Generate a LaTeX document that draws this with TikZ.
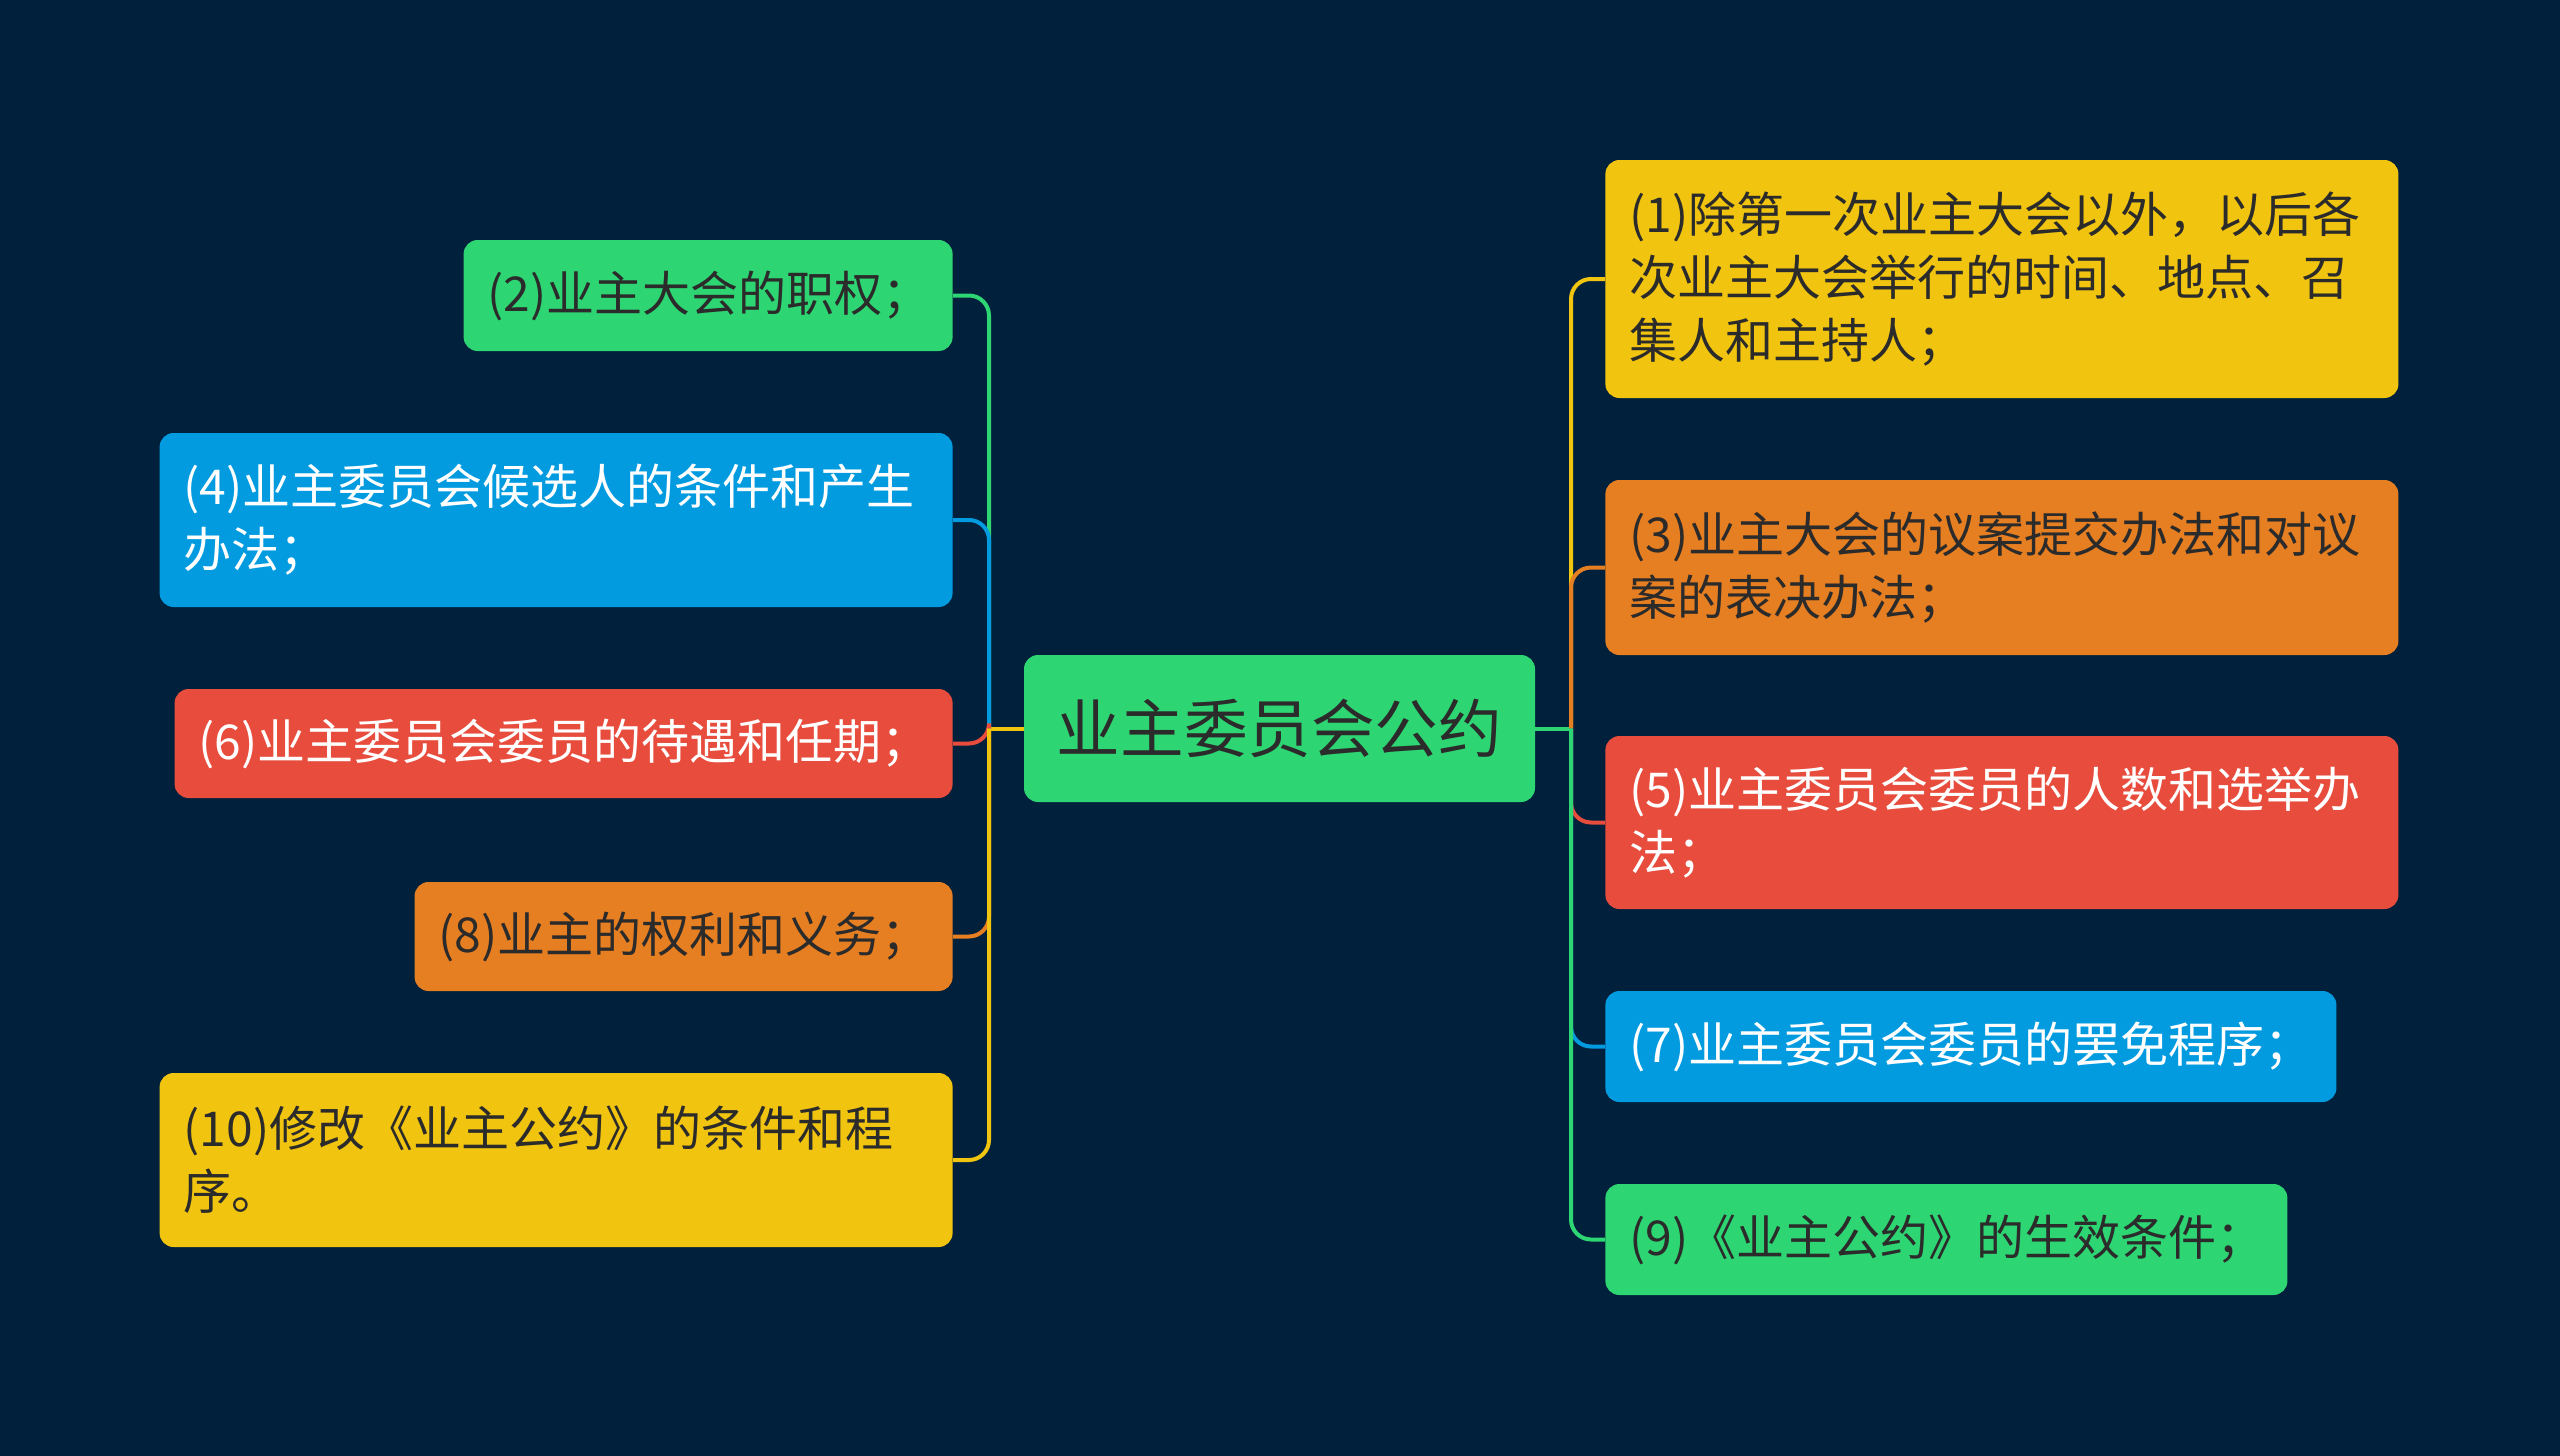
\documentclass[tikz,border=0pt]{standalone}
\usepackage{fontspec}
\setmainfont{Noto Sans CJK SC}
\usetikzlibrary{positioning, calc}
\definecolor{bgnavy}{HTML}{01203B}
\definecolor{tgreen}{HTML}{2ED573}
\definecolor{tblue}{HTML}{039BE0}
\definecolor{tred}{HTML}{E74C3C}
\definecolor{torange}{HTML}{E67E22}
\definecolor{tyellow}{HTML}{F1C40F}
\definecolor{darktext}{HTML}{2B2B2B}

\begin{document}
\begin{tikzpicture}[x=0.5pt, y=-0.5pt,
    topic/.style={rounded corners=7pt, inner xsep=12pt, inner ysep=0pt, align=left,
        font=\fontsize{24}{31.4}\selectfont},
    dk/.style={text=darktext},
    wt/.style={text=white},
    conn/.style={line width=2pt, rounded corners=10pt}]
    % Background
    \fill[bgnavy] (0,0) rectangle (2560,1456);
    \useasboundingbox (0,0) rectangle (2560,1456);

    % Central topic
    \node[fill=tgreen, rounded corners=7pt, minimum width=255.5pt, minimum height=73.5pt,
        text=darktext, font=\fontsize{31.8}{40}\selectfont] (ctr) at (1279.5,728.5) {业主委员会公约};

    % Right branches
    \node[topic, dk, fill=tyellow, text width=372.5pt, minimum height=119pt, anchor=west] (r1) at (1605,279)
        {(1)除第一次业主大会以外，以后各\\次业主大会举行的时间、地点、召\\集人和主持人；};
    \node[topic, dk, fill=torange, text width=372.5pt, minimum height=87.5pt, anchor=west] (r3) at (1605,567.5)
        {(3)业主大会的议案提交办法和对议\\案的表决办法；};
    \node[topic, wt, fill=tred, text width=372.5pt, minimum height=86.5pt, anchor=west] (r5) at (1605,822.5)
        {(5)业主委员会委员的人数和选举办\\法；};
    \node[topic, wt, fill=tblue, text width=341.5pt, minimum height=55.5pt, anchor=west] (r7) at (1605,1046.5)
        {(7)业主委员会委员的罢免程序；};
    \node[topic, dk, fill=tgreen, text width=317pt, minimum height=55.5pt, anchor=west] (r9) at (1605,1239.5)
        {(9)《业主公约》的生效条件；};

    % Left branches
    \node[topic, dk, fill=tgreen, text width=220.5pt, minimum height=55.5pt, anchor=east] (l2) at (953,295.5)
        {(2)业主大会的职权；};
    \node[topic, wt, fill=tblue, text width=372.5pt, minimum height=87pt, anchor=east] (l4) at (953,520)
        {(4)业主委员会候选人的条件和产生\\办法；};
    \node[topic, wt, fill=tred, text width=365pt, minimum height=54.5pt, anchor=east] (l6) at (953,743.5)
        {(6)业主委员会委员的待遇和任期；};
    \node[topic, dk, fill=torange, text width=245pt, minimum height=54.5pt, anchor=east] (l8) at (953,936.5)
        {(8)业主的权利和义务；};
    \node[topic, dk, fill=tyellow, text width=372.5pt, minimum height=87pt, anchor=east] (l10) at (953,1160)
        {(10)修改《业主公约》的条件和程\\序。};

    % Trunks
    \coordinate (lj) at (989,728.5);
    \coordinate (rj) at (1571,728.5);
    \draw[conn, tyellow] (ctr.west) -- (lj);
    \draw[conn, tgreen] (ctr.east) -- (rj);

    % Connectors
    \draw[conn, tgreen] (lj) |- (l2.east);
    \draw[conn, tblue] (lj) |- (l4.east);
    \draw[conn, tred] (lj) |- (l6.east);
    \draw[conn, torange] (lj) |- (l8.east);
    \draw[conn, tyellow] (lj) |- (l10.east);
    \draw[conn, tyellow] (rj) |- (r1.west);
    \draw[conn, torange] (rj) |- (r3.west);
    \draw[conn, tred] (rj) |- (r5.west);
    \draw[conn, tblue] (rj) |- (r7.west);
    \draw[conn, tgreen] (rj) |- (r9.west);
\end{tikzpicture}
\end{document}
